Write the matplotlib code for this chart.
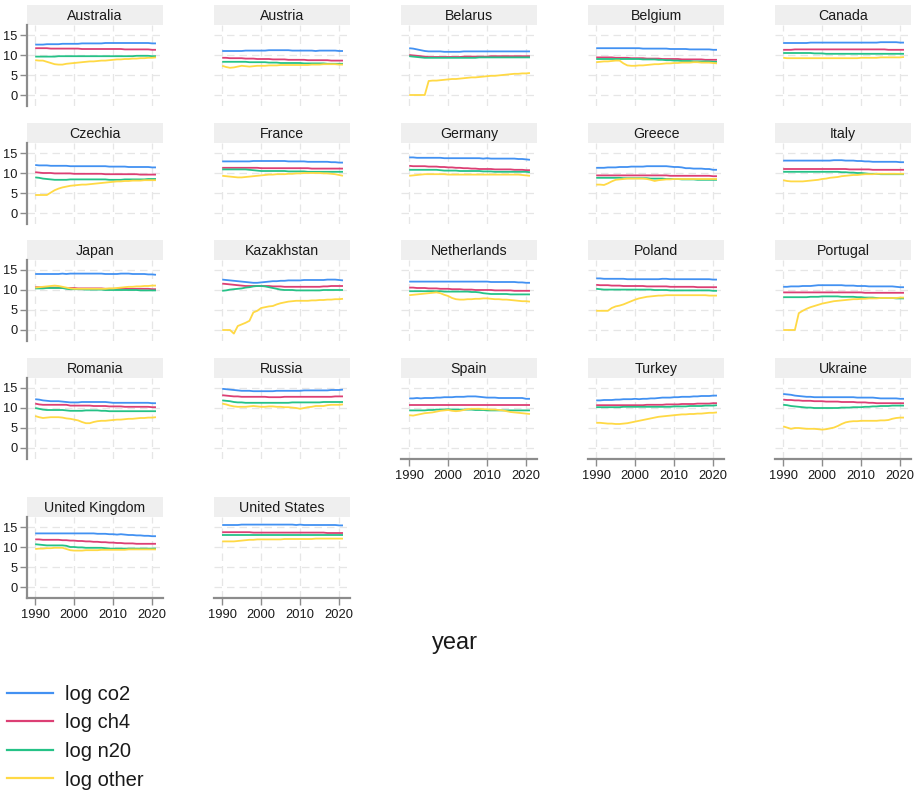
import matplotlib
matplotlib.use("Agg")
import matplotlib.pyplot as plt
from matplotlib.lines import Line2D

plt.rcParams['font.family'] = ['Liberation Sans', 'DejaVu Sans']

years = list(range(1990, 2022))

countries = ["Australia", "Austria", "Belarus", "Belgium", "Canada",
             "Czechia", "France", "Germany", "Greece", "Italy",
             "Japan", "Kazakhstan", "Netherlands", "Poland", "Portugal",
             "Romania", "Russia", "Spain", "Turkey", "Ukraine",
             "United Kingdom", "United States"]

series_labels = ["log co2", "log ch4", "log n20", "log other"]
series_colors = ["#4291f2", "#dc3f74", "#25c287", "#ffd945"]

x_ticks = [1990, 2000, 2010, 2020]
y_ticks = [0, 5, 10, 15]
x_title = "year"

log_co2 = {
    "Australia": [12.6,12.6,12.6,12.7,12.7,12.7,12.7,12.8,12.8,12.8, 12.8,12.8,12.9,12.9,12.9,12.9,12.9,12.9,13.0,13.0, 13.0,13.0,13.0,13.0,13.0,13.0,13.0,13.0,13.0,13.0, 12.9,12.9],
    "Austria": [11.0,11.0,11.0,11.0,11.0,11.0,11.1,11.1,11.1,11.1, 11.1,11.1,11.2,11.2,11.2,11.2,11.2,11.2,11.1,11.1, 11.1,11.1,11.1,11.1,11.0,11.1,11.1,11.1,11.1,11.1, 11.0,11.0],
    "Belarus": [11.7,11.6,11.4,11.2,11.0,10.9,10.9,10.9,10.9,10.8, 10.8,10.8,10.8,10.8,10.9,10.9,10.9,10.9,10.9,10.9, 10.9,10.9,10.9,10.9,10.9,10.9,10.9,10.9,10.9,10.9, 10.9,10.9],
    "Belgium": [11.7,11.7,11.7,11.7,11.7,11.7,11.7,11.7,11.7,11.7, 11.7,11.7,11.6,11.6,11.6,11.6,11.6,11.6,11.6,11.5, 11.5,11.5,11.5,11.5,11.4,11.4,11.4,11.4,11.4,11.4, 11.3,11.3],
    "Canada": [13.0,13.0,13.0,13.0,13.0,13.0,13.0,13.1,13.1,13.1, 13.1,13.1,13.1,13.1,13.1,13.1,13.1,13.1,13.1,13.1, 13.1,13.1,13.1,13.1,13.1,13.2,13.2,13.2,13.2,13.2, 13.1,13.1],
    "Czechia": [12.0,11.9,11.9,11.9,11.8,11.8,11.8,11.8,11.8,11.7, 11.7,11.7,11.7,11.7,11.7,11.7,11.7,11.7,11.7,11.6, 11.6,11.6,11.6,11.6,11.5,11.5,11.5,11.5,11.5,11.5, 11.4,11.4],
    "France": [12.9,12.9,12.9,12.9,12.9,12.9,12.9,12.9,13.0,13.0, 13.0,13.0,13.0,13.0,13.0,13.0,13.0,12.9,12.9,12.9, 12.9,12.9,12.8,12.8,12.8,12.8,12.8,12.8,12.7,12.7, 12.6,12.6],
    "Germany": [13.9,13.9,13.8,13.8,13.8,13.8,13.8,13.8,13.8,13.7, 13.7,13.7,13.7,13.7,13.7,13.7,13.7,13.7,13.7,13.6, 13.7,13.6,13.6,13.6,13.6,13.6,13.6,13.6,13.5,13.5, 13.4,13.3],
    "Greece": [11.3,11.3,11.3,11.4,11.4,11.4,11.5,11.5,11.5,11.6, 11.6,11.6,11.6,11.7,11.7,11.7,11.7,11.7,11.7,11.6, 11.5,11.5,11.4,11.2,11.2,11.1,11.1,11.1,11.0,11.0, 10.8,10.8],
    "Italy": [13.1,13.1,13.1,13.1,13.1,13.1,13.1,13.1,13.1,13.1, 13.1,13.1,13.1,13.2,13.2,13.2,13.1,13.1,13.1,13.0, 13.0,12.9,12.9,12.8,12.8,12.8,12.8,12.8,12.8,12.8, 12.7,12.7],
    "Japan": [14.0,14.0,14.0,14.0,14.0,14.0,14.0,14.1,14.0,14.1, 14.1,14.1,14.1,14.1,14.1,14.1,14.1,14.1,14.0,14.0, 14.0,14.0,14.1,14.1,14.1,14.0,14.0,14.0,14.0,13.9, 13.9,13.8],
    "Kazakhstan": [12.6,12.5,12.4,12.3,12.2,12.1,12.0,11.9,11.8,11.8, 11.9,12.0,12.1,12.2,12.2,12.3,12.3,12.4,12.4,12.4, 12.4,12.5,12.5,12.5,12.5,12.5,12.5,12.6,12.6,12.6, 12.5,12.4],
    "Netherlands": [12.1,12.1,12.1,12.1,12.1,12.1,12.1,12.1,12.1,12.1, 12.1,12.1,12.1,12.1,12.1,12.1,12.1,12.1,12.1,12.1, 12.1,12.0,12.0,12.0,12.0,12.0,12.0,12.0,11.9,11.9, 11.8,11.8],
    "Poland": [12.9,12.9,12.8,12.8,12.8,12.8,12.8,12.8,12.7,12.7, 12.7,12.7,12.7,12.7,12.7,12.7,12.7,12.8,12.8,12.7, 12.7,12.7,12.7,12.7,12.7,12.7,12.7,12.7,12.7,12.7, 12.6,12.6],
    "Portugal": [10.8,10.8,10.9,10.9,10.9,11.0,11.0,11.0,11.1,11.2, 11.2,11.2,11.2,11.2,11.2,11.2,11.1,11.1,11.1,11.0, 11.0,11.0,10.9,10.9,10.9,10.9,10.9,10.9,10.9,10.8, 10.7,10.7],
    "Romania": [12.2,12.1,11.9,11.8,11.7,11.7,11.7,11.6,11.5,11.4, 11.4,11.4,11.5,11.5,11.5,11.5,11.5,11.5,11.5,11.4, 11.3,11.3,11.3,11.3,11.3,11.3,11.3,11.3,11.3,11.3, 11.2,11.2],
    "Russia": [14.8,14.7,14.6,14.5,14.4,14.3,14.3,14.3,14.2,14.2, 14.2,14.2,14.2,14.2,14.3,14.3,14.3,14.3,14.3,14.3, 14.3,14.4,14.4,14.4,14.4,14.4,14.4,14.4,14.5,14.5, 14.5,14.6],
    "Spain": [12.4,12.4,12.5,12.4,12.5,12.5,12.5,12.6,12.6,12.7, 12.7,12.7,12.8,12.8,12.8,12.9,12.9,12.9,12.8,12.7, 12.6,12.6,12.6,12.5,12.5,12.5,12.5,12.5,12.5,12.5, 12.3,12.3],
    "Turkey": [11.9,11.9,12.0,12.0,12.0,12.1,12.1,12.2,12.2,12.2, 12.3,12.2,12.3,12.3,12.4,12.4,12.5,12.6,12.6,12.6, 12.7,12.7,12.8,12.8,12.8,12.9,12.9,13.0,13.0,13.0, 13.1,13.1],
    "Ukraine": [13.5,13.4,13.3,13.1,13.0,12.9,12.8,12.8,12.7,12.7, 12.7,12.7,12.7,12.7,12.7,12.7,12.7,12.7,12.7,12.6, 12.6,12.6,12.6,12.6,12.5,12.4,12.4,12.4,12.4,12.4, 12.3,12.3],
    "United Kingdom": [13.4,13.4,13.4,13.4,13.4,13.4,13.4,13.4,13.4,13.4, 13.4,13.4,13.4,13.4,13.4,13.4,13.3,13.3,13.3,13.2, 13.2,13.1,13.2,13.1,13.0,13.0,12.9,12.9,12.8,12.8, 12.7,12.7],
    "United States": [15.5,15.5,15.5,15.5,15.5,15.6,15.6,15.6,15.6,15.6, 15.6,15.6,15.6,15.6,15.6,15.6,15.6,15.6,15.6,15.5, 15.6,15.5,15.5,15.5,15.5,15.5,15.5,15.5,15.5,15.5, 15.4,15.4],
}

log_ch4 = {
    "Australia": [11.7,11.7,11.7,11.7,11.6,11.6,11.6,11.6,11.6,11.6, 11.6,11.6,11.5,11.5,11.5,11.5,11.5,11.5,11.5,11.5, 11.5,11.5,11.5,11.4,11.4,11.4,11.4,11.4,11.4,11.4, 11.3,11.3],
    "Austria": [9.3,9.3,9.2,9.2,9.2,9.2,9.1,9.1,9.1,9.0, 9.0,9.0,9.0,8.9,8.9,8.9,8.9,8.8,8.8,8.8, 8.8,8.8,8.7,8.7,8.7,8.7,8.7,8.7,8.6,8.6, 8.6,8.6],
    "Belarus": [10.0,9.9,9.8,9.7,9.6,9.5,9.5,9.5,9.5,9.5, 9.5,9.5,9.5,9.5,9.6,9.6,9.6,9.6,9.6,9.6, 9.6,9.7,9.7,9.7,9.7,9.7,9.7,9.7,9.7,9.7, 9.7,9.7],
    "Belgium": [9.4,9.4,9.4,9.4,9.4,9.3,9.3,9.3,9.3,9.2, 9.2,9.2,9.2,9.1,9.1,9.1,9.1,9.0,9.0,9.0, 9.0,9.0,8.9,8.9,8.9,8.9,8.9,8.9,8.8,8.8, 8.8,8.8],
    "Canada": [11.3,11.3,11.3,11.4,11.4,11.4,11.4,11.4,11.4,11.4, 11.4,11.4,11.4,11.4,11.4,11.4,11.4,11.4,11.4,11.4, 11.4,11.4,11.4,11.4,11.4,11.4,11.4,11.3,11.3,11.3, 11.3,11.3],
    "Czechia": [10.2,10.1,10.0,10.0,10.0,9.9,9.9,9.9,9.9,9.9, 9.8,9.8,9.8,9.8,9.8,9.8,9.8,9.8,9.7,9.7, 9.7,9.7,9.7,9.7,9.7,9.7,9.7,9.6,9.6,9.6, 9.6,9.6],
    "France": [11.3,11.3,11.3,11.3,11.3,11.3,11.3,11.3,11.3,11.3, 11.2,11.2,11.2,11.2,11.2,11.2,11.2,11.2,11.2,11.2, 11.2,11.2,11.2,11.1,11.1,11.1,11.1,11.1,11.1,11.1, 11.1,11.1],
    "Germany": [11.8,11.7,11.7,11.7,11.7,11.6,11.6,11.6,11.5,11.5, 11.4,11.4,11.3,11.3,11.2,11.2,11.1,11.1,11.0,11.0, 11.0,11.0,10.9,10.9,10.9,10.9,10.9,10.8,10.8,10.8, 10.7,10.7],
    "Greece": [9.4,9.4,9.4,9.4,9.4,9.4,9.4,9.4,9.4,9.4, 9.4,9.4,9.4,9.4,9.4,9.4,9.4,9.4,9.4,9.3, 9.3,9.3,9.3,9.3,9.3,9.3,9.3,9.3,9.3,9.3, 9.2,9.2],
    "Italy": [11.0,11.0,11.0,11.0,11.0,11.0,11.0,11.0,11.0,11.0, 11.0,11.0,11.0,11.0,11.0,11.0,11.0,10.9,10.9,10.9, 10.9,10.9,10.9,10.8,10.8,10.8,10.8,10.8,10.8,10.8, 10.8,10.8],
    "Japan": [10.7,10.7,10.6,10.6,10.6,10.6,10.6,10.5,10.5,10.5, 10.5,10.4,10.4,10.4,10.4,10.4,10.4,10.4,10.3,10.3, 10.3,10.3,10.3,10.3,10.3,10.3,10.3,10.3,10.3,10.3, 10.2,10.2],
    "Kazakhstan": [11.6,11.5,11.4,11.3,11.2,11.1,11.0,11.0,11.0,11.0, 11.0,11.0,11.0,10.9,10.9,10.9,10.8,10.8,10.8,10.8, 10.8,10.8,10.8,10.8,10.8,10.8,10.9,10.9,11.0,11.0, 11.0,11.0],
    "Netherlands": [10.6,10.6,10.5,10.5,10.5,10.4,10.4,10.4,10.3,10.3, 10.3,10.2,10.2,10.2,10.1,10.1,10.1,10.0,10.0,10.0, 10.0,10.0,9.9,9.9,9.9,9.9,9.9,9.8,9.8,9.8, 9.8,9.8],
    "Poland": [11.3,11.2,11.2,11.2,11.1,11.1,11.1,11.0,11.0,11.0, 11.0,11.0,11.0,10.9,10.9,10.9,10.9,10.9,10.9,10.8, 10.8,10.8,10.8,10.8,10.8,10.8,10.7,10.7,10.7,10.7, 10.7,10.7],
    "Portugal": [9.4,9.4,9.4,9.4,9.4,9.4,9.4,9.4,9.4,9.4, 9.4,9.4,9.4,9.4,9.4,9.4,9.4,9.4,9.4,9.4, 9.4,9.3,9.3,9.3,9.3,9.3,9.3,9.3,9.3,9.3, 9.3,9.3],
    "Romania": [11.1,10.9,10.8,10.8,10.8,10.8,10.8,10.8,10.8,10.6, 10.6,10.6,10.6,10.6,10.6,10.5,10.5,10.5,10.5,10.4, 10.4,10.4,10.4,10.3,10.3,10.3,10.3,10.3,10.3,10.3, 10.2,10.2],
    "Russia": [13.2,13.1,13.0,12.9,12.9,12.8,12.8,12.8,12.8,12.8, 12.8,12.8,12.7,12.7,12.7,12.7,12.8,12.8,12.8,12.8, 12.8,12.8,12.8,12.8,12.8,12.8,12.8,12.8,12.8,12.9, 12.9,12.9],
    "Spain": [10.7,10.7,10.7,10.7,10.7,10.7,10.7,10.7,10.7,10.7, 10.7,10.7,10.7,10.7,10.7,10.7,10.7,10.7,10.7,10.7, 10.7,10.7,10.7,10.7,10.7,10.7,10.7,10.7,10.7,10.7, 10.7,10.7],
    "Turkey": [10.7,10.7,10.7,10.7,10.7,10.7,10.7,10.7,10.7,10.7, 10.7,10.7,10.7,10.8,10.8,10.8,10.8,10.8,10.9,10.9, 10.9,10.9,11.0,11.0,11.0,11.0,11.1,11.1,11.1,11.1, 11.2,11.2],
    "Ukraine": [12.1,12.0,12.0,11.9,11.9,11.8,11.8,11.8,11.7,11.7, 11.7,11.6,11.6,11.6,11.6,11.5,11.5,11.5,11.5,11.4, 11.4,11.4,11.3,11.3,11.2,11.2,11.2,11.2,11.2,11.2, 11.2,11.2],
    "United Kingdom": [11.9,11.9,11.8,11.8,11.8,11.8,11.8,11.7,11.7,11.6, 11.6,11.5,11.5,11.4,11.4,11.3,11.3,11.2,11.2,11.1, 11.1,11.0,11.0,10.9,10.9,10.9,10.8,10.8,10.8,10.8, 10.8,10.8],
    "United States": [13.7,13.7,13.7,13.7,13.7,13.7,13.7,13.7,13.6,13.6, 13.6,13.6,13.6,13.6,13.6,13.6,13.6,13.6,13.6,13.6, 13.6,13.6,13.6,13.6,13.6,13.6,13.6,13.5,13.5,13.5, 13.5,13.5],
}

log_n2o = {
    "Australia": [9.6,9.6,9.6,9.6,9.6,9.6,9.7,9.7,9.7,9.7, 9.7,9.7,9.7,9.7,9.7,9.7,9.7,9.7,9.7,9.7, 9.7,9.7,9.7,9.7,9.7,9.7,9.8,9.8,9.8,9.8, 9.7,9.7],
    "Austria": [8.3,8.3,8.3,8.3,8.3,8.3,8.3,8.2,8.2,8.2, 8.2,8.2,8.1,8.1,8.1,8.0,8.0,8.0,8.0,8.0, 8.0,7.9,7.9,7.9,7.9,7.9,7.9,7.8,7.8,7.8, 7.8,7.8],
    "Belarus": [9.7,9.6,9.5,9.4,9.3,9.3,9.3,9.3,9.3,9.3, 9.3,9.3,9.3,9.3,9.3,9.3,9.3,9.3,9.4,9.4, 9.4,9.4,9.4,9.4,9.4,9.4,9.4,9.4,9.4,9.4, 9.4,9.4],
    "Belgium": [9.0,9.0,9.0,9.0,9.0,9.0,9.0,9.0,9.0,9.0, 9.0,9.0,8.9,8.9,8.9,8.9,8.8,8.8,8.7,8.7, 8.6,8.6,8.5,8.5,8.5,8.4,8.4,8.4,8.4,8.4, 8.3,8.3],
    "Canada": [10.5,10.5,10.5,10.5,10.5,10.5,10.5,10.5,10.4,10.4, 10.4,10.3,10.3,10.3,10.3,10.3,10.3,10.3,10.3,10.3, 10.3,10.3,10.3,10.3,10.3,10.3,10.3,10.3,10.3,10.3, 10.3,10.3],
    "Czechia": [8.9,8.8,8.6,8.5,8.4,8.3,8.3,8.3,8.3,8.4, 8.4,8.4,8.4,8.4,8.4,8.4,8.4,8.4,8.4,8.3, 8.3,8.3,8.3,8.4,8.4,8.4,8.4,8.4,8.4,8.5, 8.5,8.5],
    "France": [10.9,10.9,10.9,10.9,10.9,10.9,10.9,10.8,10.7,10.6, 10.5,10.5,10.5,10.5,10.5,10.5,10.5,10.4,10.4,10.4, 10.4,10.4,10.3,10.3,10.3,10.3,10.3,10.3,10.3,10.3, 10.3,10.3],
    "Germany": [10.8,10.8,10.8,10.8,10.8,10.8,10.8,10.8,10.7,10.6, 10.6,10.6,10.6,10.5,10.5,10.5,10.5,10.5,10.5,10.4, 10.4,10.4,10.3,10.3,10.3,10.3,10.3,10.3,10.3,10.3, 10.3,10.2],
    "Greece": [8.8,8.8,8.8,8.8,8.8,8.8,8.8,8.7,8.7,8.7, 8.7,8.7,8.7,8.7,8.6,8.6,8.6,8.6,8.5,8.5, 8.5,8.5,8.4,8.4,8.4,8.4,8.3,8.3,8.3,8.3, 8.3,8.3],
    "Italy": [10.3,10.3,10.3,10.3,10.3,10.3,10.3,10.3,10.3,10.3, 10.3,10.3,10.3,10.3,10.3,10.2,10.2,10.1,10.1,10.0, 10.0,9.9,9.8,9.8,9.8,9.7,9.7,9.7,9.7,9.7, 9.7,9.7],
    "Japan": [10.4,10.4,10.4,10.5,10.5,10.5,10.5,10.5,10.3,10.2, 10.2,10.2,10.2,10.1,10.1,10.1,10.1,10.1,10.0,10.0, 10.0,10.0,10.0,10.0,10.0,10.0,10.0,9.9,9.9,9.9, 9.9,9.9],
    "Kazakhstan": [9.8,9.9,10.1,10.2,10.3,10.4,10.6,10.7,10.9,11.0, 11.0,10.9,10.7,10.5,10.3,10.1,10.0,10.0,10.0,9.9, 9.9,9.9,9.9,9.9,9.9,9.9,10.0,10.0,10.0,10.0, 10.0,10.0],
    "Netherlands": [9.7,9.7,9.7,9.7,9.7,9.7,9.7,9.7,9.7,9.6, 9.6,9.6,9.6,9.6,9.6,9.6,9.5,9.5,9.4,9.2, 9.1,9.0,9.0,9.0,9.0,9.0,8.9,8.9,8.9,8.9, 8.9,8.9],
    "Poland": [10.3,10.2,10.1,10.1,10.1,10.1,10.1,10.1,10.1,10.1, 10.1,10.1,10.1,10.1,10.1,10.0,10.0,10.0,10.0,9.9, 9.9,9.9,9.9,9.9,9.9,9.9,9.9,9.9,9.9,9.9, 9.8,9.8],
    "Portugal": [8.2,8.2,8.2,8.2,8.2,8.2,8.2,8.3,8.3,8.3, 8.4,8.4,8.4,8.4,8.4,8.3,8.3,8.3,8.3,8.2, 8.2,8.1,8.1,8.1,8.0,8.0,8.0,8.0,8.0,7.9, 7.9,7.9],
    "Romania": [10.0,9.8,9.6,9.5,9.5,9.5,9.5,9.5,9.4,9.3, 9.3,9.3,9.3,9.4,9.4,9.4,9.4,9.3,9.3,9.2, 9.2,9.2,9.2,9.2,9.2,9.2,9.2,9.2,9.2,9.2, 9.2,9.2],
    "Russia": [11.9,11.8,11.7,11.5,11.4,11.4,11.3,11.3,11.3,11.3, 11.3,11.3,11.3,11.3,11.3,11.3,11.3,11.3,11.4,11.4, 11.4,11.4,11.4,11.4,11.4,11.4,11.5,11.5,11.5,11.5, 11.5,11.5],
    "Spain": [9.4,9.4,9.4,9.4,9.4,9.5,9.5,9.6,9.6,9.6, 9.7,9.6,9.6,9.6,9.6,9.6,9.6,9.5,9.5,9.5, 9.4,9.4,9.4,9.4,9.4,9.4,9.4,9.4,9.4,9.4, 9.4,9.4],
    "Turkey": [10.2,10.2,10.2,10.2,10.2,10.2,10.2,10.3,10.3,10.3, 10.3,10.3,10.3,10.3,10.3,10.3,10.3,10.3,10.3,10.3, 10.4,10.4,10.4,10.4,10.5,10.5,10.5,10.5,10.6,10.6, 10.6,10.7],
    "Ukraine": [10.8,10.7,10.5,10.4,10.3,10.2,10.1,10.1,10.0,10.0, 10.0,10.0,10.0,10.0,10.0,10.1,10.1,10.1,10.2,10.2, 10.2,10.3,10.3,10.4,10.4,10.5,10.5,10.5,10.6,10.6, 10.6,10.6],
    "United Kingdom": [10.7,10.6,10.5,10.4,10.4,10.4,10.4,10.4,10.3,10.0, 10.0,9.9,9.9,9.8,9.8,9.8,9.8,9.8,9.7,9.6, 9.6,9.6,9.6,9.6,9.6,9.6,9.6,9.6,9.6,9.6, 9.6,9.6],
    "United States": [12.9,12.9,12.9,12.9,12.9,12.9,12.9,12.9,12.9,12.9, 12.9,12.9,12.9,12.9,12.9,12.9,12.9,12.9,12.9,12.9, 12.9,12.9,12.9,12.9,12.9,12.9,12.9,12.9,12.9,12.9, 12.9,12.9],
}

log_other = {
    "Australia": [8.7,8.6,8.6,8.3,8.0,7.7,7.6,7.6,7.8,7.9, 8.0,8.1,8.2,8.3,8.4,8.4,8.5,8.6,8.6,8.7, 8.8,8.9,8.9,9.0,9.0,9.1,9.1,9.2,9.2,9.3, 9.3,9.4],
    "Austria": [7.3,7.0,6.8,6.9,7.1,7.3,7.2,7.1,7.2,7.3, 7.3,7.3,7.4,7.4,7.4,7.5,7.5,7.5,7.5,7.5, 7.5,7.5,7.5,7.6,7.6,7.6,7.7,7.7,7.7,7.7, 7.6,7.6],
    "Belarus": [0,0,0,0,0,3.5,3.6,3.6,3.7,3.8, 3.9,4.0,4.0,4.1,4.2,4.3,4.4,4.4,4.5,4.6, 4.7,4.8,4.8,4.9,5.0,5.1,5.2,5.3,5.3,5.4, 5.4,5.5],
    "Belgium": [8.2,8.3,8.4,8.4,8.5,8.6,8.6,7.9,7.4,7.3, 7.3,7.4,7.4,7.5,7.6,7.7,7.7,7.8,7.9,7.9, 8.0,8.0,8.1,8.1,8.1,8.2,8.2,8.1,8.1,8.1, 8.0,7.9],
    "Canada": [9.3,9.2,9.2,9.2,9.2,9.2,9.2,9.2,9.2,9.2, 9.2,9.2,9.2,9.2,9.2,9.2,9.2,9.2,9.2,9.2, 9.3,9.3,9.3,9.3,9.3,9.4,9.4,9.4,9.4,9.4, 9.4,9.5],
    "Czechia": [4.5,4.5,4.5,4.5,5.1,5.7,6.1,6.4,6.6,6.8, 6.9,7.0,7.1,7.1,7.2,7.3,7.4,7.5,7.6,7.7, 7.8,7.9,7.9,8.0,8.0,8.1,8.1,8.1,8.2,8.2, 8.2,8.2],
    "France": [9.3,9.2,9.1,9.0,8.9,8.9,9.0,9.1,9.2,9.3, 9.4,9.5,9.6,9.6,9.7,9.7,9.7,9.8,9.8,9.9, 9.9,10.0,10.0,10.0,10.0,10.0,9.9,9.9,9.8,9.7, 9.5,9.3],
    "Germany": [9.3,9.4,9.5,9.6,9.7,9.7,9.7,9.7,9.7,9.7, 9.6,9.6,9.6,9.6,9.6,9.6,9.6,9.6,9.6,9.6, 9.6,9.6,9.6,9.6,9.6,9.6,9.6,9.6,9.6,9.5, 9.4,9.3],
    "Greece": [7.1,7.1,7.0,7.4,7.9,8.3,8.4,8.5,8.6,8.6, 8.6,8.6,8.6,8.5,8.3,8.0,8.2,8.3,8.4,8.4, 8.5,8.5,8.5,8.5,8.5,8.5,8.5,8.5,8.5,8.5, 8.5,8.5],
    "Italy": [8.2,8.0,7.9,7.9,7.9,7.9,8.0,8.1,8.2,8.3, 8.5,8.6,8.8,8.9,9.0,9.2,9.3,9.4,9.5,9.5, 9.6,9.7,9.7,9.7,9.8,9.8,9.8,9.8,9.8,9.8, 9.8,9.8],
    "Japan": [10.6,10.7,10.8,10.9,11.0,11.1,11.0,10.8,10.6,10.4, 10.3,10.3,10.3,10.3,10.3,10.3,10.3,10.3,10.3,10.4, 10.4,10.5,10.6,10.7,10.8,10.8,10.9,10.9,11.0,11.0, 11.1,11.1],
    "Kazakhstan": [0,0,0,-0.9,1.0,1.4,1.8,2.3,4.4,4.8, 5.5,5.7,5.9,6.0,6.4,6.7,6.9,7.1,7.2,7.3, 7.3,7.3,7.3,7.4,7.4,7.5,7.5,7.6,7.6,7.7, 7.7,7.8],
    "Netherlands": [8.7,8.8,8.9,9.0,9.1,9.2,9.3,9.4,9.2,8.8, 8.5,8.0,7.7,7.6,7.6,7.7,7.7,7.8,7.8,7.9, 7.9,7.8,7.7,7.7,7.6,7.6,7.5,7.4,7.3,7.2, 7.2,7.1],
    "Poland": [4.8,4.8,4.8,4.8,5.5,5.9,6.1,6.4,6.8,7.2, 7.6,7.9,8.1,8.3,8.4,8.5,8.6,8.6,8.7,8.7, 8.7,8.7,8.7,8.7,8.7,8.7,8.7,8.7,8.7,8.6, 8.6,8.6],
    "Portugal": [0,0,0,0,4.2,4.8,5.3,5.7,6.0,6.3, 6.6,6.8,7.0,7.2,7.3,7.4,7.5,7.6,7.7,7.7, 7.8,7.8,7.9,7.9,7.9,8.0,8.0,8.0,8.0,8.0, 8.1,8.1],
    "Romania": [8.0,7.7,7.5,7.6,7.7,7.7,7.7,7.6,7.4,7.3, 7.1,6.9,6.5,6.2,6.2,6.5,6.7,6.8,6.8,6.9, 7.0,7.1,7.1,7.2,7.3,7.3,7.4,7.5,7.5,7.6, 7.6,7.7],
    "Russia": [11.1,10.9,10.6,10.4,10.3,10.3,10.3,10.4,10.5,10.4, 10.3,10.3,10.4,10.4,10.3,10.3,10.2,10.2,10.1,10.0, 9.8,10.0,10.2,10.3,10.5,10.5,10.5,10.7,10.8,10.8, 10.8,10.9],
    "Spain": [8.2,8.1,8.3,8.5,8.7,8.8,8.9,9.1,9.3,9.4, 9.5,9.3,9.2,9.3,9.5,9.7,9.8,9.8,9.8,9.7, 9.7,9.6,9.6,9.5,9.4,9.2,9.0,8.9,8.8,8.7, 8.6,8.5],
    "Turkey": [6.3,6.3,6.2,6.1,6.1,6.0,6.0,6.1,6.2,6.4, 6.6,6.8,7.0,7.2,7.4,7.6,7.8,7.9,8.0,8.1, 8.2,8.3,8.4,8.4,8.5,8.5,8.6,8.6,8.7,8.8, 8.8,8.9],
    "Ukraine": [5.4,5.1,4.8,5.0,5.0,4.9,4.8,4.8,4.8,4.7, 4.6,4.7,4.9,5.1,5.5,6.0,6.4,6.6,6.7,6.7, 6.8,6.8,6.8,6.8,6.8,6.9,6.9,7.0,7.3,7.5, 7.6,7.6],
    "United Kingdom": [9.5,9.6,9.6,9.7,9.7,9.8,9.8,9.8,9.5,9.2, 9.1,9.1,9.1,9.2,9.2,9.2,9.2,9.3,9.3,9.3, 9.3,9.3,9.3,9.3,9.4,9.4,9.4,9.4,9.4,9.4, 9.4,9.4],
    "United States": [11.4,11.4,11.4,11.4,11.5,11.6,11.7,11.8,11.8,11.9, 11.9,11.9,11.9,11.9,11.9,11.9,12.0,12.0,12.0,12.0, 12.0,12.0,12.0,12.0,12.1,12.1,12.1,12.1,12.1,12.1, 12.1,12.1],
}

gas_series = [log_co2, log_ch4, log_n2o, log_other]

# ---- layout in pixels ----
W, H = 917, 791
fig = plt.figure(figsize=(W / 100, H / 100), dpi=100)
fig.patch.set_facecolor("white")


def px_axes(x, y, w, h):
    return fig.add_axes([x / W, 1 - (y + h) / H, w / W, h / H])


col_x = [27, 214, 401, 588, 775]
row_y = [5, 123, 240, 358, 497]
strip_h, plot_h, panel_w = 20, 81, 136
ncol = 5
axis_grey = "#8c8c8c"
grid_grey = "#e6e6e6"
text_col = "#1a1a1a"

n = len(countries)
for i, country in enumerate(countries):
    r, k = divmod(i, ncol)
    x0, y0 = col_x[k], row_y[r]

    # title strip
    sax = px_axes(x0, y0, panel_w, strip_h)
    sax.set_facecolor("#efefef")
    sax.set_xticks([])
    sax.set_yticks([])
    for s in sax.spines.values():
        s.set_visible(False)
    sax.text(0.5, 0.45, country, ha="center", va="center", fontsize=10.2,
             color=text_col, transform=sax.transAxes)

    # plot region
    ax = px_axes(x0, y0 + strip_h, panel_w, plot_h)
    ax.set_xlim(1987.9, 2022.8)
    ax.set_ylim(-2.75, 17.5)
    ax.set_xticks(x_ticks)
    ax.set_yticks(y_ticks)
    ax.set_axisbelow(True)
    ax.grid(True, color=grid_grey, linewidth=0.9, linestyle=(0, (6, 4)))

    for gas, col in zip(gas_series, series_colors):
        ax.plot(years, gas[country], color=col, linewidth=1.3,
                solid_capstyle="butt")

    for s in ("top", "right"):
        ax.spines[s].set_visible(False)

    show_left = (k == 0)
    show_bottom = (i + ncol >= n)

    ax.spines["left"].set_visible(show_left)
    ax.spines["left"].set_color(axis_grey)
    ax.spines["left"].set_linewidth(1.6)
    ax.spines["bottom"].set_visible(show_bottom)
    ax.spines["bottom"].set_color(axis_grey)
    ax.spines["bottom"].set_linewidth(1.6)

    ax.tick_params(axis="y", left=show_left, labelleft=show_left,
                   direction="out", length=5, width=1.0, color=axis_grey,
                   labelsize=9.3, labelcolor=text_col, pad=2)
    ax.tick_params(axis="x", bottom=show_bottom, labelbottom=show_bottom,
                   direction="out", length=5, width=1.0, color=axis_grey,
                   labelsize=9.3, labelcolor=text_col, pad=3)

fig.text(455 / W, 1 - 643 / H, x_title, ha="center", va="center",
         fontsize=17, color=text_col)

# legend, one row per series
legend_rows = [693, 721, 749.5, 778]
for lab, col, yy in zip(series_labels, series_colors, legend_rows):
    fig.add_artist(Line2D([7 / W, 53 / W], [1 - yy / H, 1 - yy / H],
                          color=col, linewidth=1.6, transform=fig.transFigure))
    fig.text(65 / W, 1 - yy / H, lab, ha="left", va="center_baseline",
             fontsize=14.5, color=text_col)

fig.savefig("out.png", dpi=100, facecolor="white")
